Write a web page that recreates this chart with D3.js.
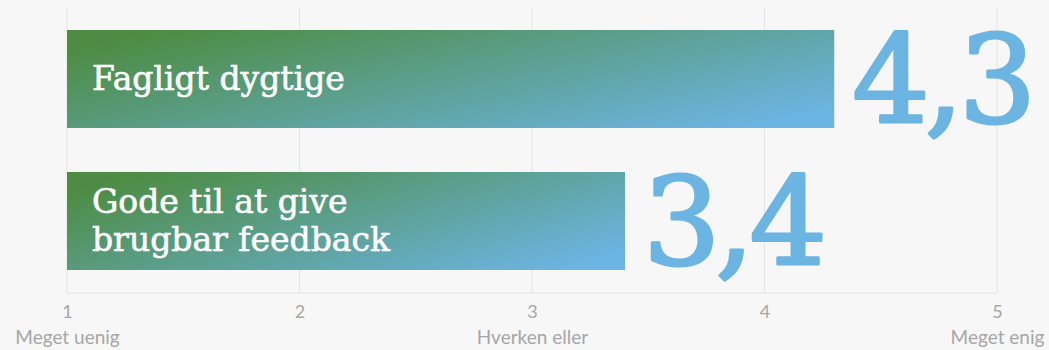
<!DOCTYPE html>
<html>
<head>
<meta charset="utf-8">
<script src="https://cdn.jsdelivr.net/npm/d3@7"></script>
<style>
  body { margin: 0; background: #f7f7f7; }
</style>
</head>
<body>
<div id="chart"></div>
<script>
// data
var categories = [["Fagligt dygtige"], ["Gode til at give", "brugbar feedback"]];
var values = [4.3, 3.4];
var valueLabels = ["4,3", "3,4"];
var tickValues = [1, 2, 3, 4, 5];
var tickNotes = ["Meget uenig", "", "Hverken eller", "", "Meget enig"];

var W = 1049, H = 350;
var margin = {top: 8, left: 67, right: 52, bottom: 57};

var svg = d3.select("#chart").append("svg")
    .attr("width", W).attr("height", H)
    .style("background", "#f7f7f7");

var defs = svg.append("defs");
var grad = defs.append("linearGradient").attr("id", "barGrad")
    .attr("x1", "0%").attr("y1", "20%").attr("x2", "100%").attr("y2", "80%");
grad.append("stop").attr("offset", "0%").attr("stop-color", "#4d8c42");
grad.append("stop").attr("offset", "100%").attr("stop-color", "#6cb4e2");

var x = d3.scaleLinear().domain([1, 5]).range([margin.left, W - margin.right]);
var y = d3.scaleBand().domain(d3.range(values.length))
    .range([30, 270]).paddingInner(0.31).paddingOuter(0);

var baseY = H - margin.bottom;

// grid
svg.append("g").selectAll("line").data(tickValues).enter().append("line")
    .attr("x1", d => x(d)).attr("x2", d => x(d))
    .attr("y1", margin.top).attr("y2", baseY)
    .style("stroke", "#e4e4e4").style("stroke-width", 1);
svg.append("line")
    .attr("x1", x(1)).attr("x2", x(5)).attr("y1", baseY).attr("y2", baseY)
    .style("stroke", "#e4e4e4");

// axis
var axis = svg.append("g").attr("transform", "translate(0," + baseY + ")")
    .call(d3.axisBottom(x).tickValues(tickValues).tickFormat(d3.format("d"))
        .tickSize(0).tickPadding(12));
axis.select(".domain").remove();
axis.selectAll("text")
    .style("font-family", "Lato, 'Open Sans', sans-serif")
    .style("font-size", "18px")
    .style("fill", "#a6a6a6");
axis.selectAll(".tick").append("text")
    .attr("y", 51).attr("text-anchor", "middle")
    .style("font-family", "Lato, 'Open Sans', sans-serif")
    .style("font-size", "19px")
    .style("fill", "#a6a6a6")
    .text((d, i) => tickNotes[i]);

// bars
svg.selectAll(".bar").data(values).enter().append("rect")
    .attr("class", "bar")
    .attr("x", x(1))
    .attr("y", (d, i) => y(i))
    .attr("width", d => x(d) - x(1))
    .attr("height", y.bandwidth())
    .style("fill", "url(#barGrad)");

// labels in bars
categories.forEach(function(lines, i) {
    var t = svg.append("text")
        .style("font-family", "'DejaVu Serif', serif")
        .style("font-size", "33px")
        .style("fill", "#ffffff")
        .style("stroke", "#ffffff")
        .style("stroke-width", 0.6);
    var lh = 38;
    var cy = y(i) + y.bandwidth() / 2 - (lines.length - 1) * lh / 2 + 11;
    lines.forEach(function(s, k) {
        t.append("tspan").attr("x", x(1) + 25).attr("y", cy + k * lh).text(s);
    });
});

// big values
svg.selectAll(".val").data(values).enter().append("text")
    .attr("class", "val")
    .attr("x", d => x(d) + 18)
    .attr("y", (d, i) => y(i) + 92)
    .style("font-family", "'DejaVu Serif', serif")
    .style("font-size", "122px")
    .style("letter-spacing", "-5px")
    .style("fill", "#6cb4e2")
    .style("stroke", "#6cb4e2")
    .style("stroke-width", 3)
    .style("stroke-linejoin", "round")
    .text((d, i) => valueLabels[i]);
</script>
</body>
</html>
